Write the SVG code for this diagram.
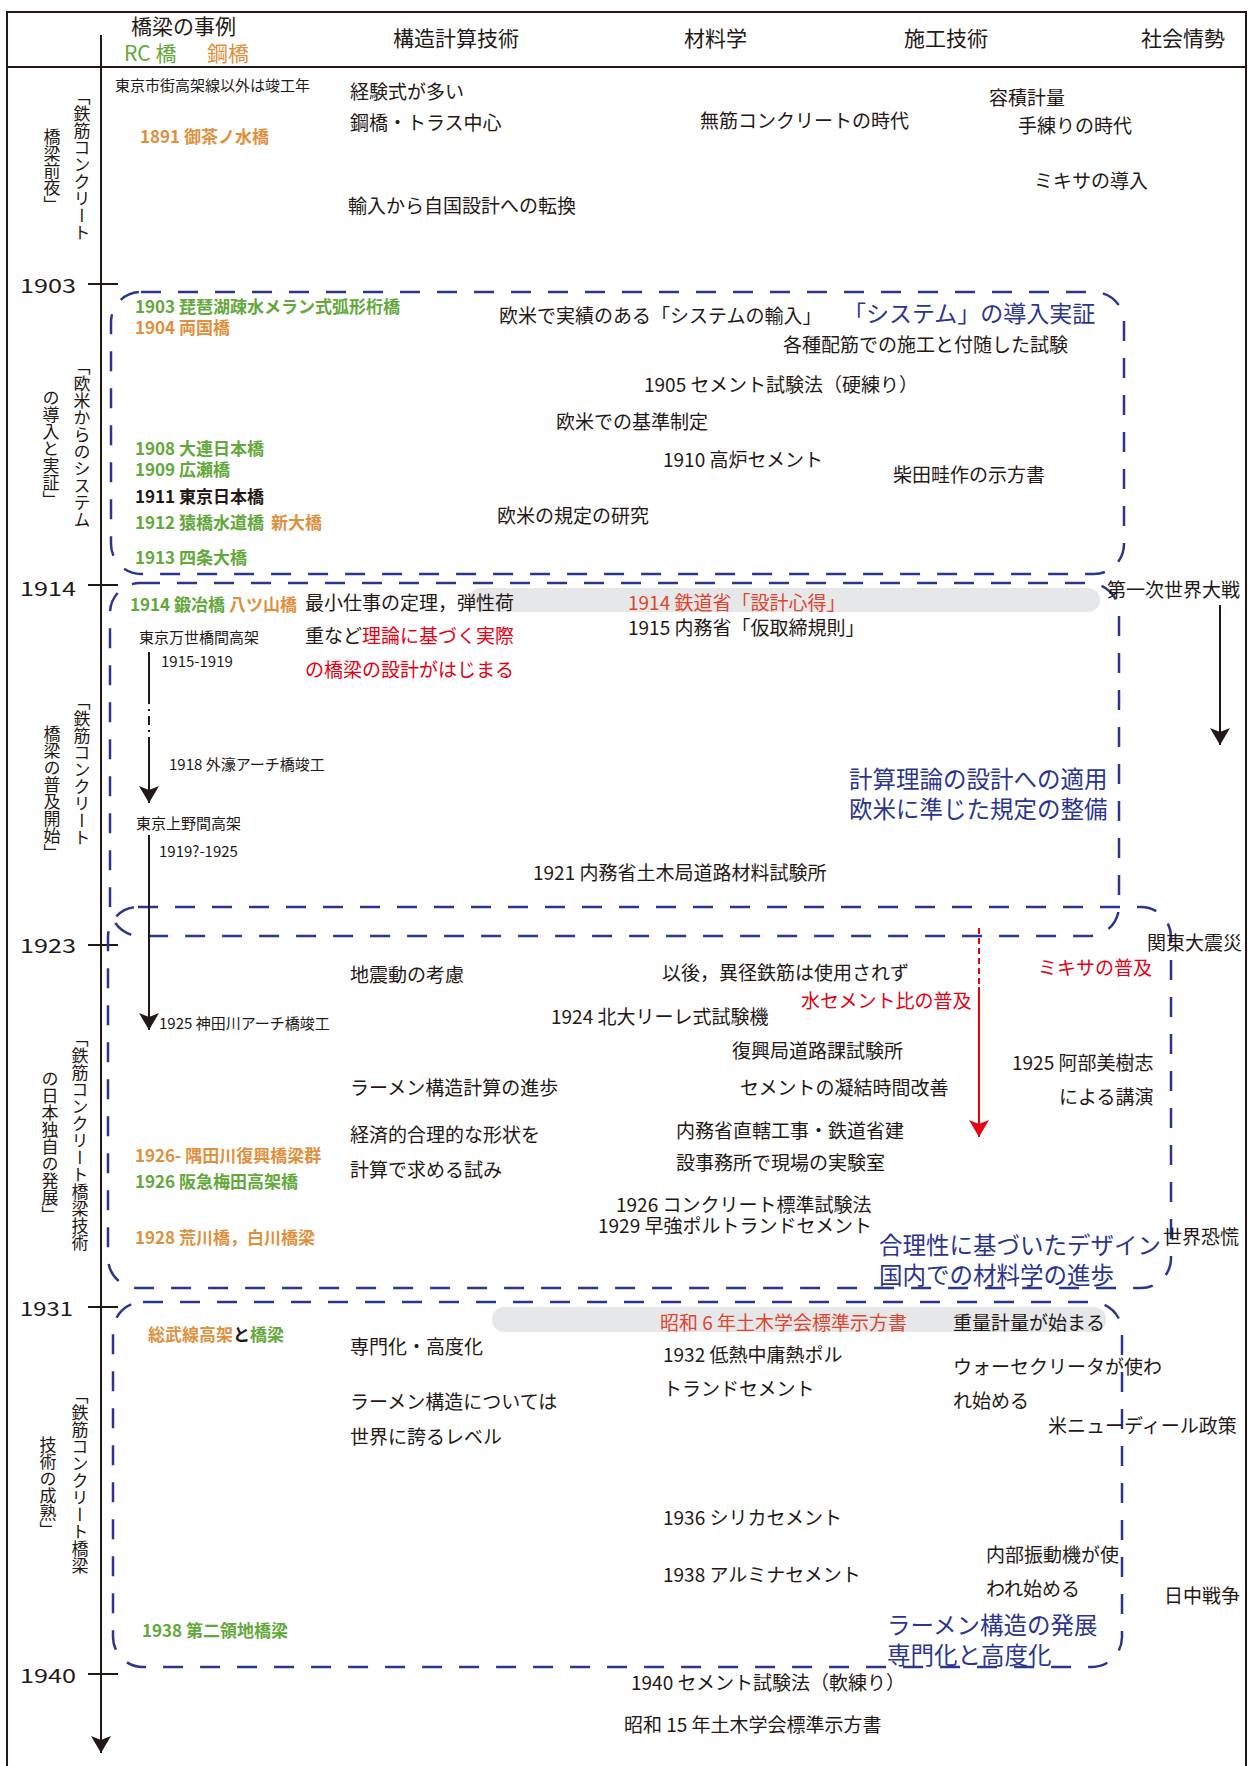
<svg xmlns="http://www.w3.org/2000/svg" width="1249" height="1766" viewBox="0 0 1249 1766">
<defs>
<style>
text{font-family:"Noto Sans CJK JP","Noto Sans CJK SC",sans-serif;fill:#231815;font-size:19px}
.h{font-size:21px}
.s{font-size:15px}
.b{font-size:17px;font-weight:700}
.y{font-size:24px}
.v{font-size:17px;writing-mode:vertical-rl}
.g{fill:#62a83a}
.o{fill:#e0903d}
.r{fill:#e60012}
.ro{fill:#e0442c}
.n{fill:#2b3590;font-size:23.5px}
.box{fill:none;stroke:#2b3590;stroke-width:2.5;stroke-dasharray:20 17}
.bar{fill:#e6e7e8}
.ln{stroke:#231815;stroke-width:2;fill:none}
</style>
<marker id="ah" viewBox="0 0 17 20" refX="17" refY="10" markerWidth="17" markerHeight="20" markerUnits="userSpaceOnUse" orient="auto">
<path d="M0,0 L17,10 L0,20 L4,10 z" fill="#231815"/>
</marker>
<marker id="ahr" viewBox="0 0 17 20" refX="17" refY="10" markerWidth="17" markerHeight="20" markerUnits="userSpaceOnUse" orient="auto">
<path d="M0,0 L17,10 L0,20 L4,10 z" fill="#e60012"/>
</marker>
</defs>
<rect width="1249" height="1766" fill="#ffffff"/>

<g id="frame">
<path class="ln" d="M7,1766 V12 H1246 V1766"/>
<line class="ln" x1="7" y1="67" x2="1246" y2="67"/>
<line class="ln" x1="101" y1="35" x2="101" y2="1753" marker-end="url(#ah)"/>
<g class="ln">
<line x1="88" y1="284" x2="118" y2="284"/>
<line x1="88" y1="585" x2="118" y2="585"/>
<line x1="88" y1="945" x2="118" y2="945"/>
<line x1="88" y1="1307" x2="118" y2="1307"/>
<line x1="88" y1="1674" x2="118" y2="1674"/>
</g>
<g id="years" class="y">
<text x="20" y="293" textLength="56" lengthAdjust="spacingAndGlyphs">1903</text>
<text x="20" y="596" textLength="56" lengthAdjust="spacingAndGlyphs">1914</text>
<text x="20" y="953" textLength="56" lengthAdjust="spacingAndGlyphs">1923</text>
<text x="20" y="1316" textLength="53" lengthAdjust="spacingAndGlyphs">1931</text>
<text x="20" y="1683" textLength="56" lengthAdjust="spacingAndGlyphs">1940</text>
</g>
</g>

<g id="header" class="h">
<text x="131" y="34" class="h">橋梁の事例</text>
<text x="124" y="61" class="h g">RC 橋</text>
<text x="207" y="61" class="h o">鋼橋</text>
<text x="393" y="46" class="h">構造計算技術</text>
<text x="684" y="46" class="h">材料学</text>
<text x="904" y="46" class="h">施工技術</text>
<text x="1141" y="46" class="h">社会情勢</text>
</g>

<g id="bars">
<rect class="bar" x="469" y="588" width="631" height="24" rx="12"/>
<rect class="bar" x="492" y="1307" width="614" height="25" rx="12"/>
</g>

<g id="boxes">
<rect id="box-1903" class="box" x="111" y="292" width="1013" height="282" rx="30"/>
<rect id="box-1914" class="box" x="110" y="583" width="1009" height="353" rx="30"/>
<rect id="box-1923" class="box" x="108" y="907" width="1063" height="381" rx="30"/>
<rect id="box-1931" class="box" x="113" y="1302" width="1009" height="365" rx="30"/>
</g>

<g id="era-labels">
<g id="era1"><text class="v" x="82" y="88">「鉄筋コンクリート</text><text class="v" x="52" y="128">橋梁前夜」</text></g>
<g id="era2"><text class="v" x="82" y="358">「欧米からのシステム</text><text class="v" x="51" y="389">の導入と実証」</text></g>
<g id="era3"><text class="v" x="82" y="693">「鉄筋コンクリート</text><text class="v" x="52" y="725">橋梁の普及開始」</text></g>
<g id="era4"><text class="v" x="80" y="1030">「鉄筋コンクリート橋梁技術</text><text class="v" x="50" y="1070">の日本独自の発展」</text></g>
<g id="era5"><text class="v" x="80" y="1387">「鉄筋コンクリート橋梁</text><text class="v" x="48" y="1436">技術の成熟」</text></g>
</g>

<g id="section1">
<text class="s" x="115" y="91">東京市街高架線以外は竣工年</text>
<text class="b o" x="140" y="143">1891 御茶ノ水橋</text>
<text x="350" y="99">経験式が多い</text>
<text x="350" y="130">鋼橋・トラス中心</text>
<text x="348" y="213">輸入から自国設計への転換</text>
<text x="700" y="128">無筋コンクリートの時代</text>
<text x="989" y="105">容積計量</text>
<text x="1018" y="133">手練りの時代</text>
<text x="1034" y="188">ミキサの導入</text>
</g>

<g id="section2">
<text class="b g" x="135" y="313">1903 琵琶湖疎水メラン式弧形桁橋</text>
<text class="b o" x="135" y="334">1904 両国橋</text>
<text class="b g" x="135" y="455">1908 大連日本橋</text>
<text class="b g" x="135" y="476">1909 広瀬橋</text>
<text class="b" x="135" y="503">1911 東京日本橋</text>
<text class="b g" x="135" y="529">1912 猿橋水道橋<tspan class="o" x="271">新大橋</tspan></text>
<text class="b g" x="135" y="564">1913 四条大橋</text>
<text x="499" y="323">欧米で実績のある「システムの輸入」</text>
<text class="n" x="843" y="322" style="font-size:23px">「システム」の導入実証</text>
<text x="783" y="352">各種配筋での施工と付随した試験</text>
<text x="644" y="392">1905 セメント試験法（硬練り）</text>
<text x="556" y="429">欧米での基準制定</text>
<text x="663" y="467">1910 高炉セメント</text>
<text x="893" y="482">柴田畦作の示方書</text>
<text x="497" y="523">欧米の規定の研究</text>
</g>

<g id="section3">
<text class="b g" x="130" y="611">1914 鍛冶橋<tspan class="o" x="229">八ツ山橋</tspan></text>
<text x="305" y="610">最小仕事の定理，弾性荷</text>
<text x="305" y="643">重など<tspan class="r">理論に基づく実際</tspan></text>
<text class="r" x="305" y="677">の橋梁の設計がはじまる</text>
<text class="s" x="139" y="643">東京万世橋間高架</text>
<text class="s" x="161" y="667">1915-1919</text>
<text class="s" x="169" y="770">1918 外濠アーチ橋竣工</text>
<text class="s" x="136" y="829">東京上野間高架</text>
<text class="s" x="159" y="857">1919?-1925</text>
<text class="s" x="159" y="1029">1925 神田川アーチ橋竣工</text>
<text class="ro" x="628" y="610">1914 鉄道省「設計心得」</text>
<text x="628" y="635">1915 内務省「仮取締規則」</text>
<text x="533" y="880">1921 内務省土木局道路材料試験所</text>
<text x="1107" y="597">第一次世界大戦</text>
<text class="n" x="849" y="788">計算理論の設計への適用</text>
<text class="n" x="849" y="818">欧米に準じた規定の整備</text>
</g>

<g id="section4">
<text x="350" y="982">地震動の考慮</text>
<text x="551" y="1024">1924 北大リーレ式試験機</text>
<text x="350" y="1095">ラーメン構造計算の進歩</text>
<text x="350" y="1142">経済的合理的な形状を</text>
<text x="350" y="1177">計算で求める試み</text>
<text class="b o" x="135" y="1162">1926- 隅田川復興橋梁群</text>
<text class="b g" x="135" y="1188">1926 阪急梅田高架橋</text>
<text class="b o" x="135" y="1244">1928 荒川橋，白川橋梁</text>
<text x="616" y="1212">1926 コンクリート標準試験法</text>
<text x="598" y="1233">1929 早強ポルトランドセメント</text>
<text x="662" y="980">以後，異径鉄筋は使用されず</text>
<text class="r" x="801" y="1008">水セメント比の普及</text>
<text class="r" x="1038" y="975">ミキサの普及</text>
<text x="1147" y="950">関東大震災</text>
<text x="732" y="1058">復興局道路課試験所</text>
<text x="740" y="1095">セメントの凝結時間改善</text>
<text x="676" y="1138">内務省直轄工事・鉄道省建</text>
<text x="676" y="1170">設事務所で現場の実験室</text>
<text x="1012" y="1070">1925 阿部美樹志</text>
<text x="1059" y="1104">による講演</text>
<text x="1163" y="1244">世界恐慌</text>
<text class="n" x="879" y="1254">合理性に基づいたデザイン</text>
<text class="n" x="879" y="1284">国内での材料学の進歩</text>
</g>

<g id="section5">
<text class="b o" x="148" y="1341">総武線高架<tspan style="fill:#231815">と</tspan><tspan class="g">橋梁</tspan></text>
<text x="350" y="1354">専門化・高度化</text>
<text x="350" y="1409">ラーメン構造については</text>
<text x="350" y="1444">世界に誇るレベル</text>
<text class="b g" x="142" y="1637">1938 第二領地橋梁</text>
<text class="ro" x="660" y="1330">昭和 6 年土木学会標準示方書</text>
<text x="953" y="1330">重量計量が始まる</text>
<text x="663" y="1362">1932 低熱中庸熱ポル</text>
<text x="663" y="1396">トランドセメント</text>
<text x="953" y="1374">ウォーセクリータが使わ</text>
<text x="953" y="1408">れ始める</text>
<text x="1048" y="1433">米ニューディール政策</text>
<text x="663" y="1525">1936 シリカセメント</text>
<text x="663" y="1582">1938 アルミナセメント</text>
<text x="986" y="1562">内部振動機が使</text>
<text x="986" y="1596">われ始める</text>
<text x="1164" y="1603">日中戦争</text>
<text class="n" x="887" y="1634">ラーメン構造の発展</text>
<text class="n" x="887" y="1664">専門化と高度化</text>
<text x="631" y="1690">1940 セメント試験法（軟練り）</text>
<text x="624" y="1732">昭和 15 年土木学会標準示方書</text>
</g>

<g id="connectors">
<line class="ln" x1="149" y1="652" x2="149" y2="695"/>
<line class="ln" x1="149" y1="695" x2="149" y2="743" stroke-dasharray="9 5 2 5"/>
<line class="ln" x1="149" y1="743" x2="149" y2="803" marker-end="url(#ah)"/>
<line class="ln" x1="149" y1="835" x2="149" y2="1030" marker-end="url(#ah)"/>
<line class="ln" x1="1220" y1="605" x2="1220" y2="745" marker-end="url(#ah)"/>
<line x1="979" y1="928" x2="979" y2="987" stroke="#e60012" stroke-width="2" stroke-dasharray="6 4"/>
<line x1="979" y1="987" x2="979" y2="1137" stroke="#e60012" stroke-width="2" marker-end="url(#ahr)"/>
</g>
</svg>
